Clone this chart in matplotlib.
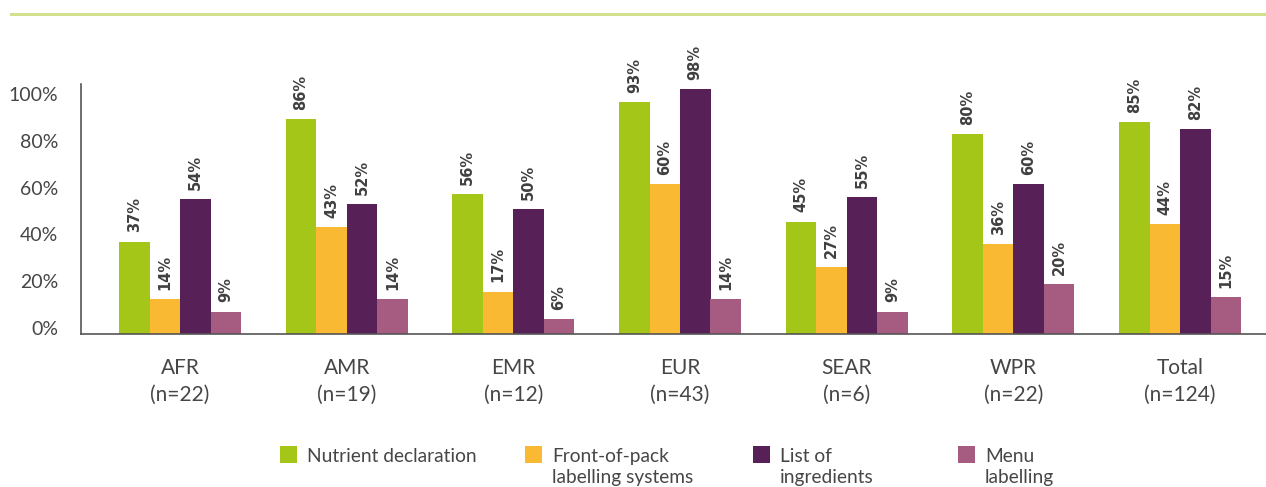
import matplotlib
matplotlib.use("Agg")
import matplotlib.pyplot as plt
import numpy as np
from matplotlib.patches import Rectangle
from matplotlib.lines import Line2D

plt.rcParams['font.family'] = ['Lato', 'DejaVu Sans']

categories = ["AFR\n(n=22)", "AMR\n(n=19)", "EMR\n(n=12)", "EUR\n(n=43)",
              "SEAR\n(n=6)", "WPR\n(n=22)", "Total\n(n=124)"]
series_names = ["Nutrient declaration", "Front-of-pack\nlabelling systems",
                "List of\ningredients", "Menu\nlabelling"]
nutrient = [37, 86, 56, 93, 45, 80, 85]
front_of_pack = [14, 43, 17, 60, 27, 36, 44]
ingredients = [54, 52, 50, 98, 55, 60, 82]
menu = [9, 14, 6, 14, 9, 20, 15]
tick_values = [0, 20, 40, 60, 80, 100]
tick_labels = ["0%", "20%", "40%", "60%", "80%", "100%"]

colors = ["#a3c619", "#f9b933", "#572158", "#a65c80"]
series = [nutrient, front_of_pack, ingredients, menu]

W, H = 1266, 487
fig = plt.figure(figsize=(W / 100, H / 100), dpi=100)
ax = fig.add_axes([81 / W, (H - 334) / H, (W - 81) / W, 250 / H])

x = np.arange(len(categories))
bw = 0.183
text_col = "#464646"
for k, (vals, c) in enumerate(zip(series, colors)):
    pos = x + (k - 1.5) * bw
    ax.bar(pos, vals, width=bw, color=c, linewidth=0, zorder=2)
    for px, v in zip(pos, vals):
        ax.text(px, v + 3.6, f"{v}%", rotation=90, ha="center", va="bottom",
                fontsize=10.5, fontweight="bold", color="#404040",
                family=["DejaVu Sans"], clip_on=False)

ax.set_xlim(-0.594, 6.516)
ax.set_ylim(0, 100)

# tick labels placed where the reference shows them
tick_pos = [2.4 + t * 0.936 for t in tick_values]
ax.set_yticks(tick_pos)
ax.set_yticklabels(tick_labels, fontsize=14, color=text_col)
ax.tick_params(axis="y", length=0, pad=16.5)
ax.set_xticks(x)
ax.set_xticklabels(categories, fontsize=15, color=text_col, linespacing=1.4)
ax.tick_params(axis="x", length=0, pad=17.5)

for s in ["top", "right"]:
    ax.spines[s].set_visible(False)
for s in ["left", "bottom"]:
    ax.spines[s].set_color("#555555")
    ax.spines[s].set_linewidth(1.2)

# top decorative line
fig.add_artist(Line2D([11 / W, 1.0], [(H - 14) / H, (H - 14) / H],
                      color="#d4e08d", linewidth=2.2))

# legend
sq_x = [280, 525, 753, 958]
for sx, c, name in zip(sq_x, colors, series_names):
    fig.add_artist(Rectangle((sx / W, (H - 463) / H), 17 / W, 17 / H,
                             facecolor=c, edgecolor="none"))
    if "\n" in name:
        fig.text((sx + 27) / W, (H - 467) / H, name, ha="left", va="center",
                 fontsize=13.75, color=text_col, linespacing=1.25)
    else:
        fig.text((sx + 27) / W, (H - 457) / H, name, ha="left", va="center",
                 fontsize=13.75, color=text_col)

fig.savefig("out.png", dpi=100, facecolor="white")
